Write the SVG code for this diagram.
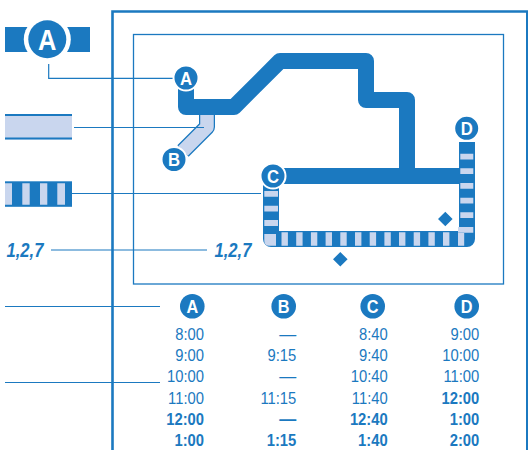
<svg xmlns="http://www.w3.org/2000/svg" width="528" height="450" viewBox="0 0 528 450">
<style>
.l{fill:none;stroke:#1b79c0;stroke-width:1.2}
.f{fill:#1b79c0}
.k{fill:#c9d6ee}
.b{font-family:"Liberation Sans",Arial,sans-serif;font-weight:700;fill:#fff;text-anchor:middle}
.t{font-family:"Liberation Sans",Arial,sans-serif;font-size:17px;fill:#1b79c0;text-anchor:end}
.tb{font-weight:700}
.i{font-family:"Liberation Sans",Arial,sans-serif;font-size:20px;font-weight:700;font-style:italic;fill:#1b79c0}
.ring{fill:#1b79c0;stroke:#fff;stroke-width:2}
.main{fill:none;stroke:#1b79c0;stroke-width:16;stroke-linejoin:round}
</style>
<rect width="528" height="450" fill="#fff"/>
<g id="frames" fill="none" stroke="#1b79c0">
<path d="M112.500 450V11.500H527.300V450" stroke-width="2.600"/>
<rect x="133.500" y="34.500" width="370" height="249.500" stroke-width="1.300"/>
</g>
<g id="legend-a"><rect x="5" y="27" width="85" height="25" class="f"/><circle cx="47.300" cy="39.300" r="23.500" fill="#fff"/><circle cx="47.300" cy="39.300" r="19" class="f"/><text transform="translate(47.300 49.800) scale(.88 1)" class="b" font-size="29">A</text></g>
<g id="legend-b"><rect x="5" y="114" width="67" height="25.500" class="k"/><path d="M5 115H72M5 138.500H72" stroke="#1b79c0" stroke-width="2"/></g>
<g id="legend-c"><rect x="5" y="181.300" width="67" height="25.500" class="f"/><path d="M5 183.300h7v21.400h-7zM22.300 183.300h7.400v21.400h-7.400zM40 183.300h7.300v21.400h-7.300zM57.300 183.300h7.700v21.400h-7.700z" class="k"/></g>
<g id="route">
<path d="M207 112V127L183 151" fill="none" stroke="#1b79c0" stroke-width="16" stroke-linejoin="round"/>
<path d="M207 112V127L183 151" fill="none" stroke="#c9d6ee" stroke-width="13.500" stroke-linejoin="round"/>
<path d="M186 85V107H234L280 61H366V100H407V176" class="main"/>
<path d="M280 176H462" class="main"/>
<path d="M271 185V239H467V142" class="main"/>
<path class="k" d="M264.300 191h13.700v5.700h-13.700zM264.300 205.700h13.700v5.700h-13.700zM264.300 220h13.700v6h-13.700zM264.300 234h11.700v11.700h-7q-4.700 0-4.700-4.700z"/>
<path class="k" d="M281.500 232.300h6.400v13.400h-6.400zM296.200 232.300h6.400v13.400h-6.400zM310.900 232.300h6.400v13.400h-6.400zM325.600 232.300h6.400v13.400h-6.400zM340.300 232.300h6.400v13.400h-6.400zM355 232.300h6.400v13.400h-6.400zM369.700 232.300h6.400v13.400h-6.400zM384.400 232.300h6.400v13.400h-6.400zM399 232.300h6.400v13.400h-6.400zM413.700 232.300h6.400v13.400h-6.400zM428.400 232.300h6.400v13.400h-6.400zM443 232.300h6.400v13.400h-6.400z"/>
<path class="k" d="M458 232.700h15.300v-5.700h-13v-.1h-2.300zM458 232.500h6.200v13.200h-6.200zM460.300 153.700h13v5.700h-13zM460.300 168.300h13v5.700h-13zM460.300 183h13v5.700h-13zM460.300 197.700h13v5.700h-13zM460.300 212.300h13v5.700h-13z"/>
</g>
<g id="connectors">
<path class="l" d="M48.700 64V78.300H175M74 127.500H204M72 193.500H261M51 250H207M5 306.500H160M5 382.500H160"/>
</g>
<g id="stop-a"><circle cx="186" cy="78" r="12.500" class="ring"/><text transform="translate(186 84.800) scale(.88 1)" class="b" font-size="19">A</text></g>
<g id="stop-b"><circle cx="174" cy="159.500" r="12.500" class="ring"/><text transform="translate(174 166.300) scale(.88 1)" class="b" font-size="19">B</text></g>
<g id="stop-c"><circle cx="273" cy="176" r="12.500" class="ring"/><text transform="translate(273 182.800) scale(.88 1)" class="b" font-size="19">C</text></g>
<g id="stop-d"><circle cx="466.700" cy="128.300" r="12.500" class="ring"/><text transform="translate(466.700 135.100) scale(.88 1)" class="b" font-size="19">D</text></g>
<g id="diamonds"><path d="M445.300 211.700l7.300 7.300-7.300 7.300-7.300-7.300zM340.300 252l7.300 7.300-7.300 7.300-7.300-7.300z" class="f"/></g>
<g id="labels"><text transform="translate(6.500 257.300) scale(.83 1)" class="i">1,2,7</text><text transform="translate(214.500 257.300) scale(.83 1)" class="i">1,2,7</text></g>
<g id="head-a"><circle cx="192.300" cy="306.300" r="12.300" class="f"/><text transform="translate(192.300 313) scale(.88 1)" class="b" font-size="18.500">A</text></g>
<g id="head-b"><circle cx="283.700" cy="306.300" r="12.300" class="f"/><text transform="translate(283.700 313) scale(.88 1)" class="b" font-size="18.500">B</text></g>
<g id="head-c"><circle cx="372.700" cy="306.300" r="12.300" class="f"/><text transform="translate(372.700 313) scale(.88 1)" class="b" font-size="18.500">C</text></g>
<g id="head-d"><circle cx="466.700" cy="306.300" r="12.300" class="f"/><text transform="translate(466.700 313) scale(.88 1)" class="b" font-size="18.500">D</text></g>
<g id="times">
<g transform="translate(204 0) scale(.87 1)"><text y="340" class="t">8:00</text><text y="361" class="t">9:00</text><text y="382" class="t">10:00</text><text y="404" class="t">11:00</text><text y="425" class="t tb">12:00</text><text y="446" class="t tb">1:00</text></g>
<g transform="translate(296.300 0) scale(.87 1)"><text y="361" class="t">9:15</text><text y="404" class="t">11:15</text><text y="446" class="t tb">1:15</text></g>
<text x="296.300" y="340" class="t">—</text><text x="296.300" y="382" class="t">—</text><text x="296.300" y="425" class="t tb">—</text>
<g transform="translate(387.700 0) scale(.87 1)"><text y="340" class="t">8:40</text><text y="361" class="t">9:40</text><text y="382" class="t">10:40</text><text y="404" class="t">11:40</text><text y="425" class="t tb">12:40</text><text y="446" class="t tb">1:40</text></g>
<g transform="translate(479.300 0) scale(.87 1)"><text y="340" class="t">9:00</text><text y="361" class="t">10:00</text><text y="382" class="t">11:00</text><text y="404" class="t tb">12:00</text><text y="425" class="t tb">1:00</text><text y="446" class="t tb">2:00</text></g>
</g>
</svg>
